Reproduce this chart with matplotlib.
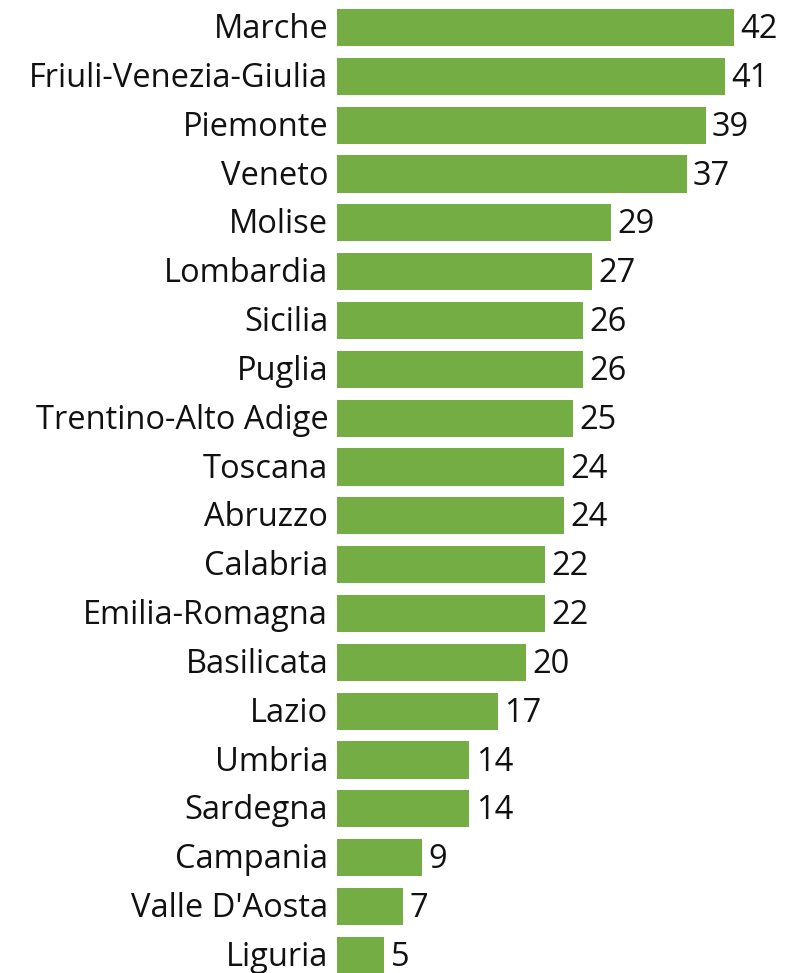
import matplotlib
matplotlib.use("Agg")
from matplotlib import pyplot as plt

# Data
regions = ["Marche", "Friuli-Venezia-Giulia", "Piemonte", "Veneto", "Molise",
           "Lombardia", "Sicilia", "Puglia", "Trentino-Alto Adige", "Toscana",
           "Abruzzo", "Calabria", "Emilia-Romagna", "Basilicata", "Lazio",
           "Umbria", "Sardegna", "Campania", "Valle D'Aosta", "Liguria"]
values = [42, 41, 39, 37, 29, 27, 26, 26, 25, 24,
          24, 22, 22, 20, 17, 14, 14, 9, 7, 5]

bar_color = "#75ad45"
text_color = "#111111"

plt.rcParams['font.family'] = ['Open Sans', 'DejaVu Sans']


def main():
    fig = plt.figure(figsize=(7.86, 9.73), dpi=100)
    # axes placed in pixel terms: bars start at x=337, 42 ends at x=734
    ax = fig.add_axes([337 / 786, -0.0069, (734 - 337) / 786, 1.0037])

    y = list(range(len(regions)))
    ax.barh(y, values, height=0.76, color=bar_color)
    ax.set_xlim(0, 42)
    ax.set_ylim(len(regions) - 0.5, -0.5)

    # baseline sits ~10 px below bar centre so caps are centred on the bar
    for yi, name, v in zip(y, regions, values):
        ax.annotate(name, (0, yi), xytext=(-6.3, -7.6), textcoords="offset points",
                    ha="right", va="baseline", fontsize=23.5, color=text_color,
                    annotation_clip=False)
        ax.annotate(str(v), (v, yi), xytext=(4.5, -7.6), textcoords="offset points",
                    ha="left", va="baseline", fontsize=23.5, color=text_color,
                    annotation_clip=False)

    ax.set_yticks([])
    ax.set_xticks([])
    for s in ax.spines.values():
        s.set_visible(False)

    fig.savefig("out.png", dpi=100)


if __name__ == "__main__":
    main()
